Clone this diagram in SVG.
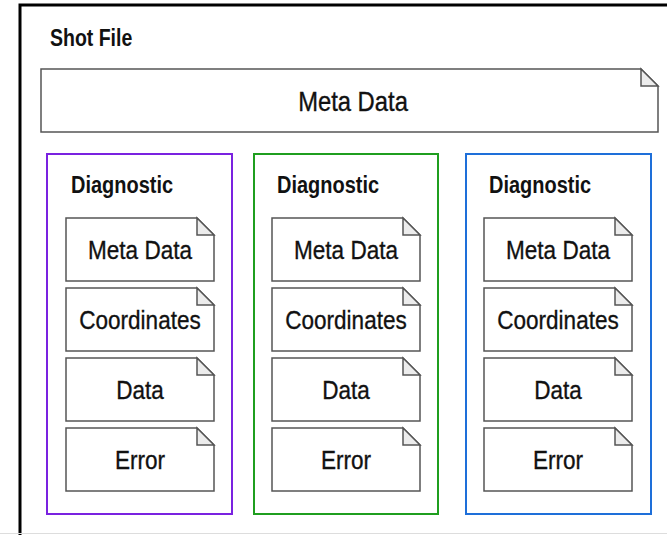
<svg xmlns="http://www.w3.org/2000/svg" width="667" height="535" viewBox="0 0 667 535">
  <style>
    .frame { fill: #ffffff; stroke: #000000; stroke-width: 3; }
    .doc { fill: #ffffff; stroke: #555555; stroke-width: 1.5; }
    .fold { fill: #ececec; stroke: #555555; stroke-width: 1.5; stroke-linejoin: miter; }
    .group { fill: none; stroke-width: 2; }
    .title { font-family: "Liberation Sans", Arial, sans-serif; font-weight: bold; font-size: 23.5px; fill: #111111; }
    .label { font-family: "Liberation Sans", Arial, sans-serif; font-size: 26.5px; fill: #111111; stroke: #111111; stroke-width: 0.35; text-anchor: middle; }
    .big { font-size: 28px; }
  </style>
  <defs>
    <!-- document shape with a folded top-right corner, 148 x 63 -->
    <g id="docShape">
      <path class="doc" d="M0,0 H131 L148,17 V63 H0 Z"/>
      <path class="fold" d="M131,0 V17 H148 Z"/>
    </g>
  </defs>

  <rect width="667" height="535" fill="#ffffff"/>

  <!-- outer container -->
  <g id="shot-file">
    <rect class="frame" x="20" y="5" width="660" height="540"/>
    <text class="title" transform="translate(50,46) scale(0.83,1)">Shot File</text>
  </g>
  <line x1="0" y1="533.5" x2="667" y2="533.5" stroke="#dddddd" stroke-width="1"/>

  <g id="shot-meta">
    <path class="doc" d="M41,69 H641 L658,86 V132 H41 Z"/>
    <path class="fold" d="M641,69 V86 H658 Z"/>
    <text class="label big" transform="translate(353,111) scale(0.85,1)">Meta Data</text>
  </g>

  <!-- diagnostic 1 -->
  <g id="diagnostic-1">
    <rect class="group" x="47" y="154" width="185" height="360" stroke="#7a22e0"/>
    <text class="title" transform="translate(71,193) scale(0.85,1)">Diagnostic</text>
    <g id="d1-meta"><use href="#docShape" x="66" y="218"/><text class="label" transform="translate(140,259) scale(0.85,1)">Meta Data</text></g>
    <g id="d1-coords"><use href="#docShape" x="66" y="288"/><text class="label" transform="translate(140,329) scale(0.85,1)">Coordinates</text></g>
    <g id="d1-data"><use href="#docShape" x="66" y="358"/><text class="label" transform="translate(140,399) scale(0.85,1)">Data</text></g>
    <g id="d1-error"><use href="#docShape" x="66" y="428"/><text class="label" transform="translate(140,469) scale(0.85,1)">Error</text></g>
  </g>

  <!-- diagnostic 2 -->
  <g id="diagnostic-2">
    <rect class="group" x="254" y="154" width="184" height="360" stroke="#1f9e1f"/>
    <text class="title" transform="translate(277,193) scale(0.85,1)">Diagnostic</text>
    <g id="d2-meta"><use href="#docShape" x="272" y="218"/><text class="label" transform="translate(346,259) scale(0.85,1)">Meta Data</text></g>
    <g id="d2-coords"><use href="#docShape" x="272" y="288"/><text class="label" transform="translate(346,329) scale(0.85,1)">Coordinates</text></g>
    <g id="d2-data"><use href="#docShape" x="272" y="358"/><text class="label" transform="translate(346,399) scale(0.85,1)">Data</text></g>
    <g id="d2-error"><use href="#docShape" x="272" y="428"/><text class="label" transform="translate(346,469) scale(0.85,1)">Error</text></g>
  </g>

  <!-- diagnostic 3 -->
  <g id="diagnostic-3">
    <rect class="group" x="466" y="154" width="185" height="360" stroke="#1e6fd9"/>
    <text class="title" transform="translate(489,193) scale(0.85,1)">Diagnostic</text>
    <g id="d3-meta"><use href="#docShape" x="484" y="218"/><text class="label" transform="translate(558,259) scale(0.85,1)">Meta Data</text></g>
    <g id="d3-coords"><use href="#docShape" x="484" y="288"/><text class="label" transform="translate(558,329) scale(0.85,1)">Coordinates</text></g>
    <g id="d3-data"><use href="#docShape" x="484" y="358"/><text class="label" transform="translate(558,399) scale(0.85,1)">Data</text></g>
    <g id="d3-error"><use href="#docShape" x="484" y="428"/><text class="label" transform="translate(558,469) scale(0.85,1)">Error</text></g>
  </g>

  <g id="connectors"/>
</svg>
